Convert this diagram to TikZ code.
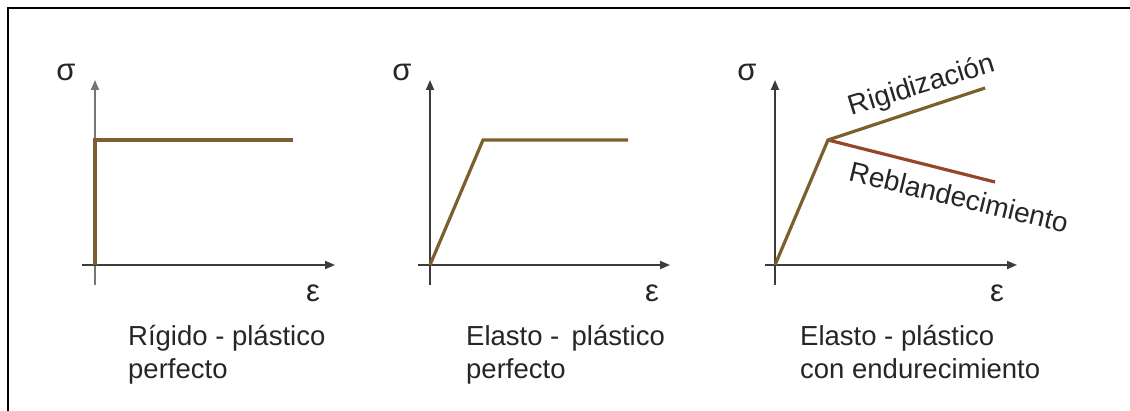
\documentclass[tikz,border=0pt]{standalone}
\usepackage{fontspec}
\setmainfont{Liberation Sans}
\usetikzlibrary{arrows.meta}
\definecolor{curve}{RGB}{125,95,45}
\definecolor{soft}{RGB}{150,70,40}
\definecolor{axis}{RGB}{60,60,60}
\tikzset{
  axisline/.style={draw=axis, line width=1.8pt},
  axisarrow/.style={axisline, -{Triangle[length=10pt,width=8pt]}},
  curveline/.style={draw=curve, line width=3.2pt, line join=miter},
  softline/.style={draw=soft, line width=3.2pt},
  lbl/.style={font=\fontsize{28}{32}\selectfont, text=black!85, inner sep=0pt},
  sym/.style={font=\fontsize{31}{31}\selectfont, text=black!85, inner sep=0pt},
  caption/.style={font=\fontsize{27.5}{33}\selectfont, text=black!85, align=left, anchor=north west, inner sep=0pt}
}
\begin{document}
\begin{tikzpicture}[x=1pt,y=-1pt]
\useasboundingbox (0,0) rectangle (1130,411);
\fill[white] (0,0) rectangle (1130,411);
\coordinate (fb) at (8,411);
\coordinate (fc) at (8,8);
\coordinate (fr) at (1130,8);
\draw[line width=2.4pt, black] (fb) -- (fc) -- (fr);

% ---------- Graph 1 ----------
\coordinate (a1b) at (95,285);
\coordinate (a1t) at (95,80);
\coordinate (a1l) at (82,265);
\coordinate (a1r) at (335,265);
\draw[axisarrow, draw=axis!70] (a1b) -- (a1t);
\draw[axisarrow] (a1l) -- (a1r);
\coordinate (c1o) at (95,265);
\coordinate (c1y) at (95,140);
\coordinate (c1e) at (293,140);
\draw[curveline] (c1o) -- (c1y) -- (c1e);
\node[sym] (s1) at (66,72) {σ};
\node[sym] (e1) at (313,293) {ε};
\node[caption] (t1) at (128,325) {Rígido - plástico\\perfecto};

% ---------- Graph 2 ----------
\coordinate (a2b) at (430,285);
\coordinate (a2t) at (430,80);
\coordinate (a2l) at (418,265);
\coordinate (a2r) at (670,265);
\draw[axisarrow] (a2b) -- (a2t);
\draw[axisarrow] (a2l) -- (a2r);
\coordinate (c2o) at (430,265);
\coordinate (c2y) at (483,140);
\coordinate (c2e) at (628,140);
\draw[curveline] (c2o) -- (c2y) -- (c2e);
\node[sym] (s2) at (402,72) {σ};
\node[sym] (e2) at (652,293) {ε};
\node[caption] (t2) at (466,325) {Elasto -\,\ plástico\\perfecto};

% ---------- Graph 3 ----------
\coordinate (a3b) at (775,285);
\coordinate (a3t) at (775,80);
\coordinate (a3l) at (765,265);
\coordinate (a3r) at (1017,265);
\draw[axisarrow] (a3b) -- (a3t);
\draw[axisarrow] (a3l) -- (a3r);
\coordinate (c3o) at (775,265);
\coordinate (c3y) at (828,140);
\coordinate (c3h) at (985,88);
\coordinate (c3s) at (995,182);
\draw[softline] (c3y) -- (c3s);
\draw[curveline] (c3o) -- (c3y) -- (c3h);
\node[sym] (s3) at (747,72) {σ};
\node[sym] (e3) at (997,293) {ε};
\node[lbl, rotate=17] (r3) at (922,86) {Rigidización};
\node[lbl, rotate=-13.5] (b3) at (959,197) {Reblandecimiento};
\node[caption] (t3) at (800,325) {Elasto - plástico\\con endurecimiento};
\end{tikzpicture}
\end{document}
